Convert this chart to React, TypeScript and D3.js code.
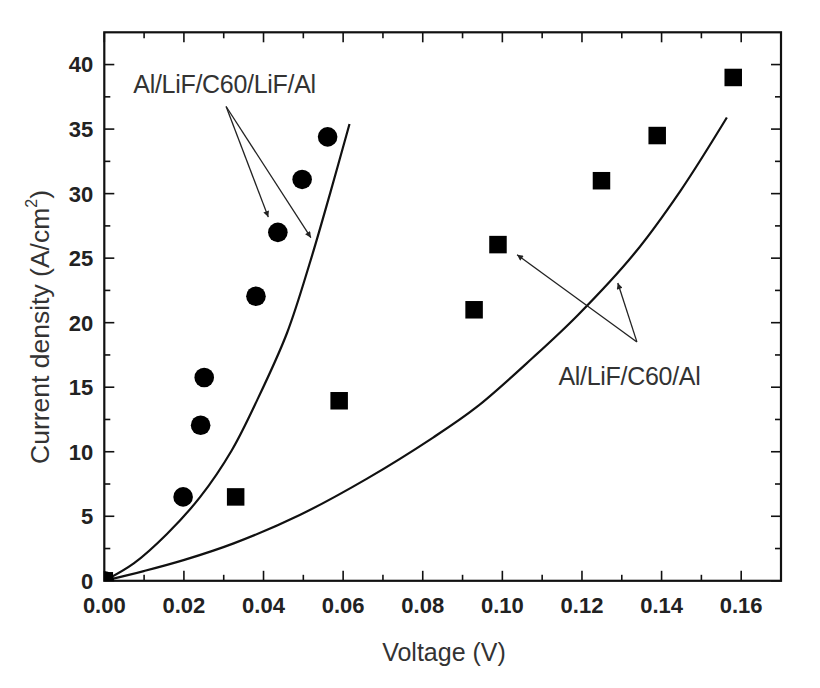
import { useEffect, useRef } from "react";
import * as d3 from "d3";

// measured points (voltage in V, current density in A/cm2)
const circleV = [0, 0.0198, 0.0242, 0.0251, 0.0381, 0.0436, 0.0497, 0.0561];
const circleJ = [0, 6.5, 12.05, 15.75, 22.05, 27.0, 31.1, 34.4];
const squareV = [0, 0.033, 0.059, 0.0929, 0.0989, 0.1249, 0.1389, 0.158];
const squareJ = [0, 6.5, 13.95, 21.0, 26.05, 31.0, 34.5, 39.0];

// fitted curves
const fitLeftV = [0, 0.0074, 0.0158, 0.0241, 0.032, 0.0384, 0.0459, 0.0518, 0.0568, 0.0616];
const fitLeftJ = [0, 1.35, 3.65, 6.5, 10.1, 14.0, 19.2, 24.8, 30.1, 35.4];
const fitRightV = [0, 0.0099, 0.0199, 0.0325, 0.0491, 0.0659, 0.0826, 0.0935, 0.1077, 0.119, 0.133, 0.1447, 0.1564];
const fitRightJ = [0, 0.75, 1.6, 2.9, 5.1, 7.9, 11.1, 13.45, 17.3, 20.6, 25.3, 30.2, 35.9];

const xTicks = [0, 0.02, 0.04, 0.06, 0.08, 0.1, 0.12, 0.14, 0.16];
const yTicks = [0, 5, 10, 15, 20, 25, 30, 35, 40];

// annotation labels and arrows (data units)
const labels = [
  { text: "Al/LiF/C60/LiF/Al", v: 0.0073, j: 37.78 },
  { text: "Al/LiF/C60/Al", v: 0.1141, j: 15.15 },
];
const arrows = [
  { from: [0.0306, 36.75], to: [0.0412, 28.18] },
  { from: [0.0306, 36.75], to: [0.0519, 26.59] },
  { from: [0.1338, 18.51], to: [0.1037, 25.27] },
  { from: [0.1338, 18.51], to: [0.129, 23.07] },
];

const FONT = "'Liberation Sans', Arial, sans-serif";

export default function App() {
  const svgRef = useRef<SVGSVGElement>(null);
  const width = 820;
  const height = 688;

  useEffect(() => {
    if (!svgRef.current) return;
    const svg = d3.select(svgRef.current);
    svg.selectAll("*").remove();

    const left = 104.3, right = 781, top = 32.3, bottom = 580.8;

    const x = d3.scaleLinear().domain([0, 0.17]).range([left, right]);
    const y = d3.scaleLinear().domain([0, 42.5]).range([bottom, top]);

    const defs = svg.append("defs");
    defs.append("clipPath").attr("id", "plot-clip")
      .append("rect")
      .attr("x", left).attr("y", top)
      .attr("width", right - left).attr("height", bottom - top);
    defs.append("marker")
      .attr("id", "arrowhead")
      .attr("viewBox", "0 0 10 10")
      .attr("refX", 10).attr("refY", 5)
      .attr("markerWidth", 8).attr("markerHeight", 6)
      .attr("markerUnits", "userSpaceOnUse")
      .attr("orient", "auto")
      .append("path")
      .attr("d", "M0,0 L10,5 L0,10 z")
      .attr("fill", "#222");

    // minor/major ticks on all four sides, pointing inward
    const xMinor = d3.range(0, 0.1701, 0.01);
    const yMinor = d3.range(0, 42.5, 2.5);
    const tickG = svg.append("g").attr("stroke", "#111").attr("stroke-width", 1.6);
    xMinor.forEach((v, i) => {
      const len = i % 2 === 0 ? 10 : 6;
      tickG.append("line").attr("x1", x(v)).attr("x2", x(v)).attr("y1", bottom).attr("y2", bottom - len);
      tickG.append("line").attr("x1", x(v)).attr("x2", x(v)).attr("y1", top).attr("y2", top + len);
    });
    yMinor.forEach((v, i) => {
      const len = i % 2 === 0 ? 10 : 6;
      tickG.append("line").attr("y1", y(v)).attr("y2", y(v)).attr("x1", left).attr("x2", left + len);
      tickG.append("line").attr("y1", y(v)).attr("y2", y(v)).attr("x1", right).attr("x2", right - len);
    });

    // frame
    svg.append("rect")
      .attr("x", left).attr("y", top)
      .attr("width", right - left).attr("height", bottom - top)
      .attr("fill", "none").attr("stroke", "#111").attr("stroke-width", 2.2);

    // tick labels
    svg.append("g").selectAll("text")
      .data(xTicks).enter().append("text")
      .attr("x", d => x(d)).attr("y", 613)
      .attr("text-anchor", "middle")
      .attr("font-family", FONT).attr("font-weight", "bold").attr("font-size", 22)
      .attr("fill", "#222")
      .text(d => d.toFixed(2));
    svg.append("g").selectAll("text")
      .data(yTicks).enter().append("text")
      .attr("x", left - 11).attr("y", d => y(d)).attr("dy", "0.36em")
      .attr("text-anchor", "end")
      .attr("font-family", FONT).attr("font-weight", "bold").attr("font-size", 22)
      .attr("fill", "#222")
      .text(d => String(d));

    // axis titles
    svg.append("text")
      .attr("x", 444).attr("y", 661)
      .attr("text-anchor", "middle")
      .attr("font-family", FONT).attr("font-size", 25).attr("fill", "#333")
      .text("Voltage (V)");
    const yTitle = svg.append("text")
      .attr("transform", `translate(49,${327}) rotate(-90)`)
      .attr("text-anchor", "middle")
      .attr("font-family", FONT).attr("font-size", 26.5).attr("fill", "#333");
    yTitle.append("tspan").text("Current density (A/cm");
    yTitle.append("tspan").attr("font-size", 16).attr("dy", "-0.75em").text("2");
    yTitle.append("tspan").attr("dy", "0.45em").text(")");

    const plot = svg.append("g").attr("clip-path", "url(#plot-clip)");

    // fitted curves
    const line = d3.line<[number, number]>()
      .x(d => x(d[0])).y(d => y(d[1]))
      .curve(d3.curveCatmullRom.alpha(0.5));
    const leftPts = fitLeftV.map((v, i) => [v, fitLeftJ[i]] as [number, number]);
    const rightPts = fitRightV.map((v, i) => [v, fitRightJ[i]] as [number, number]);
    [leftPts, rightPts].forEach(pts => {
      plot.append("path")
        .datum(pts)
        .attr("fill", "none")
        .attr("stroke", "#111")
        .attr("stroke-width", 2.2)
        .attr("d", line);
    });

    // circles
    plot.selectAll(".dot")
      .data(circleV.map((v, i) => [v, circleJ[i]]))
      .enter().append("circle")
      .attr("class", "dot")
      .attr("cx", d => x(d[0])).attr("cy", d => y(d[1]))
      .attr("r", 9.8)
      .attr("fill", "#000");

    // squares
    const side = 17.5;
    plot.selectAll(".sq")
      .data(squareV.map((v, i) => [v, squareJ[i]]))
      .enter().append("rect")
      .attr("class", "sq")
      .attr("x", d => x(d[0]) - side / 2).attr("y", d => y(d[1]) - side / 2)
      .attr("width", side).attr("height", side)
      .attr("fill", "#000");

    // annotation arrows
    svg.append("g").selectAll("line")
      .data(arrows).enter().append("line")
      .attr("x1", d => x(d.from[0])).attr("y1", d => y(d.from[1]))
      .attr("x2", d => x(d.to[0])).attr("y2", d => y(d.to[1]))
      .attr("stroke", "#222").attr("stroke-width", 1.3)
      .attr("marker-end", "url(#arrowhead)");

    // annotation labels
    svg.append("g").selectAll("text")
      .data(labels).enter().append("text")
      .attr("x", d => x(d.v)).attr("y", d => y(d.j))
      .attr("font-family", FONT).attr("font-size", 25)
      .attr("letter-spacing", -0.3)
      .attr("fill", "#333")
      .text(d => d.text);
  }, []);

  return (
    <div style={{ position: "absolute", left: 0, top: 0, background: "#fff" }}>
      <svg ref={svgRef} width={width} height={height}></svg>
    </div>
  );
}
